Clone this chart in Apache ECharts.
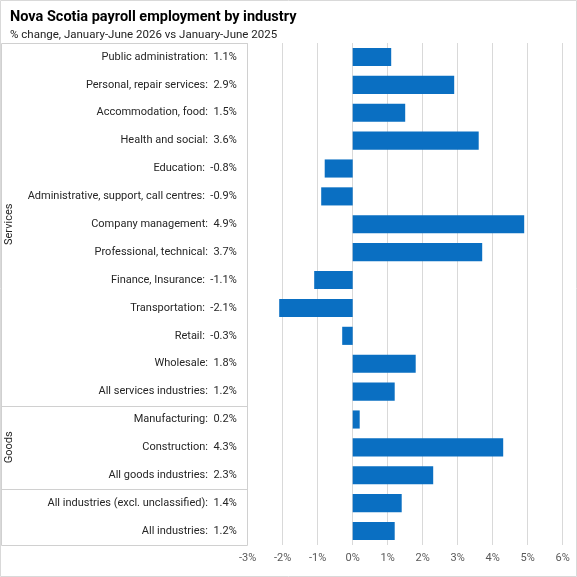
<!DOCTYPE html>
<html>
<head>
<meta charset="utf-8">
<script src="https://cdn.jsdelivr.net/npm/echarts@6/dist/echarts.min.js"></script>
<style>
html, body { margin: 0; padding: 0; background: #fff; }
#chart { width: 577px; height: 577px; }
</style>
</head>
<body>
<div id="chart"></div>
<script>
var industries = ['Public administration', 'Personal, repair services', 'Accommodation, food',
    'Health and social', 'Education', 'Administrative, support, call centres',
    'Company management', 'Professional, technical', 'Finance, Insurance',
    'Transportation', 'Retail', 'Wholesale', 'All services industries',
    'Manufacturing', 'Construction', 'All goods industries',
    'All industries (excl. unclassified)', 'All industries'];
var changes = [1.1, 2.9, 1.5, 3.6, -0.8, -0.9, 4.9, 3.7, -1.1, -2.1, -0.3, 1.8, 1.2, 0.2, 4.3, 2.3, 1.4, 1.2];
// groups: name, first index, last index (empty name = no label)
var groupNames = ['Services', 'Goods', ''];
var groupStart = [0, 13, 16];
var groupEnd = [12, 15, 17];
var tickValues = [-3, -2, -1, 0, 1, 2, 3, 4, 5, 6];

var labelFont = 'Roboto';
var chartNS = echarts.init(document.getElementById('chart'));

var option = {
    animation: false,
    title: {
        text: 'Nova Scotia payroll employment by industry',
        subtext: '% change, January-June 2026 vs January-June 2025',
        left: 5,
        top: 5,
        itemGap: 4,
        textStyle: { fontFamily: labelFont, fontSize: 14.5, fontWeight: 'bold', color: '#000' },
        subtextStyle: { fontFamily: labelFont, fontSize: 11.5, color: '#222' }
    },
    grid: {
        left: 247.7,
        right: 14.3,
        top: 43,
        bottom: 32
    },
    xAxis: {
        type: 'value',
        min: tickValues[0],
        max: tickValues[tickValues.length - 1],
        interval: 1,
        axisLine: { show: false },
        axisTick: { show: false },
        splitLine: { lineStyle: { color: '#d9d9d9', width: 1 } },
        axisLabel: {
            formatter: '{value}%',
            fontFamily: labelFont,
            fontSize: 11,
            color: '#595959',
            margin: 8
        }
    },
    yAxis: {
        type: 'category',
        inverse: true,
        data: industries,
        axisLine: { show: false },
        axisTick: { show: false },
        axisLabel: {
            margin: 11,
            fontFamily: labelFont,
            fontSize: 11,
            color: '#262626',
            formatter: function (name, idx) {
                return name + ':  ' + changes[idx].toFixed(1) + '%';
            }
        }
    },
    series: [{
        type: 'bar',
        data: changes,
        barCategoryGap: '35%',
        itemStyle: { color: '#0a6fc2' }
    }]
};

chartNS.setOption(option);

// label table box and group labels
function drawTable() {
    var band = chartNS.convertToPixel({ yAxisIndex: 0 }, 1) - chartNS.convertToPixel({ yAxisIndex: 0 }, 0);
    var boxRight = 247.5;
    var elements = [{
        type: 'rect',
        shape: { x: 0.5, y: 0.5, width: 576, height: 576 },
        style: { fill: 'none', stroke: '#d9d9d9', lineWidth: 1 },
        silent: true
    }];
    var top = chartNS.convertToPixel({ yAxisIndex: 0 }, 0) - band / 2;
    var bottom = chartNS.convertToPixel({ yAxisIndex: 0 }, industries.length - 1) + band / 2;
    elements.push({
        type: 'rect',
        shape: { x: 1.5, y: Math.round(top) + 0.5, width: boxRight - 1.5, height: Math.round(bottom - top) },
        style: { fill: 'none', stroke: '#d0d0d0', lineWidth: 1 },
        silent: true
    });
    for (var g = 0; g < groupNames.length; g++) {
        var y0 = chartNS.convertToPixel({ yAxisIndex: 0 }, groupStart[g]) - band / 2;
        var y1 = chartNS.convertToPixel({ yAxisIndex: 0 }, groupEnd[g]) + band / 2;
        if (g > 0) {
            elements.push({
                type: 'line',
                shape: { x1: 1.5, y1: Math.round(y0) + 0.5, x2: boxRight, y2: Math.round(y0) + 0.5 },
                style: { stroke: '#d0d0d0', lineWidth: 1 },
                silent: true
            });
        }
        if (groupNames[g]) {
            elements.push({
                type: 'text',
                x: 9,
                y: (y0 + y1) / 2,
                rotation: Math.PI / 2,
                style: {
                    text: groupNames[g],
                    fontFamily: labelFont,
                    fontSize: 11,
                    fill: '#262626',
                    align: 'center',
                    verticalAlign: 'middle'
                },
                silent: true
            });
        }
    }
    chartNS.setOption({ graphic: elements });
}
drawTable();

window.addEventListener('resize', function () {
    chartNS.resize();
    drawTable();
});
</script>
</body>
</html>
